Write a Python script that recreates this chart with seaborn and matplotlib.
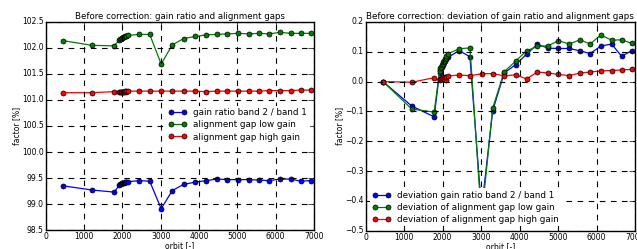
import numpy as np
import pandas as pd
import seaborn as sns
import matplotlib
matplotlib.use('Agg')
import matplotlib.pyplot as plt

orbits = [450, 1200, 1780, 1920, 1940, 1960, 1980, 2000, 2020, 2040, 2060, 2080, 2100,
          2150, 2430, 2710, 3010, 3300, 3600, 3900, 4180, 4460, 4740, 5010, 5290,
          5570, 5830, 6110, 6390, 6650, 6920]

gain_ratio = [99.35, 99.27, 99.23, 99.36, 99.38, 99.39, 99.40, 99.40, 99.41, 99.41, 99.42, 99.42, 99.42,
              99.43, 99.45, 99.44, 98.91, 99.26, 99.38, 99.42, 99.45, 99.48, 99.47, 99.47, 99.47,
              99.46, 99.45, 99.48, 99.48, 99.44, 99.45]
gap_low = [102.14, 102.05, 102.04, 102.15, 102.17, 102.18, 102.19, 102.20, 102.21, 102.21, 102.22, 102.22, 102.23,
           102.24, 102.26, 102.26, 101.69, 102.06, 102.18, 102.22, 102.25, 102.26, 102.27, 102.28, 102.27,
           102.28, 102.27, 102.30, 102.28, 102.28, 102.28]
gap_high = [101.14, 101.14, 101.16, 101.15, 101.15, 101.16, 101.16, 101.16, 101.16, 101.16, 101.17, 101.16, 101.17,
            101.17, 101.17, 101.17, 101.17, 101.17, 101.17, 101.17, 101.16, 101.17, 101.17, 101.17, 101.17,
            101.17, 101.18, 101.18, 101.18, 101.19, 101.19]

dev_ratio = [0.0, -0.082, -0.118, 0.03, 0.04, 0.045, 0.05, 0.055, 0.06, 0.065, 0.07, 0.075, 0.078,
             0.082, 0.104, 0.083, -0.43, -0.098, 0.029, 0.057, 0.092, 0.125, 0.112, 0.111, 0.111,
             0.103, 0.094, 0.119, 0.126, 0.085, 0.104]
dev_low = [0.0, -0.092, -0.102, 0.035, 0.045, 0.05, 0.055, 0.06, 0.065, 0.07, 0.075, 0.08, 0.085,
           0.094, 0.110, 0.113, -0.46, -0.089, 0.033, 0.069, 0.103, 0.118, 0.120, 0.137, 0.126,
           0.140, 0.126, 0.156, 0.139, 0.140, 0.128]
dev_high = [0.0, -0.002, 0.013, 0.005, 0.008, 0.010, 0.012, 0.008, 0.014, 0.010, 0.015, 0.006, 0.016,
            0.019, 0.022, 0.020, 0.026, 0.027, 0.019, 0.023, 0.009, 0.032, 0.029, 0.024, 0.020,
            0.029, 0.032, 0.036, 0.037, 0.039, 0.041]

plt.style.use('classic')
plt.rcParams['font.family'] = ['DejaVu Sans']

fig = plt.figure(figsize=(6.37, 2.49), dpi=100, facecolor='white')
ax1 = fig.add_axes([0.072, 0.076, 0.421, 0.836])
ax2 = fig.add_axes([0.574, 0.073, 0.423, 0.839])

colors = ['b', 'g', 'r']


def draw(ax, series, labels):
    for vals, lab, c in zip(series, labels, colors):
        df = pd.DataFrame({'orbit': orbits, 'value': vals})
        sns.lineplot(data=df, x='orbit', y='value', ax=ax, color=c, label=lab,
                     marker='o', markersize=3.6, markeredgecolor='k', markeredgewidth=0.5,
                     markerfacecolor=c, linewidth=0.9, estimator=None, sort=False)
    ax.set_xlim(0, 7000)
    ax.grid(True, linestyle='--', color='k', linewidth=0.8, dashes=(4, 4))
    ax.set_xlabel('orbit [-]', fontsize=5.5, labelpad=0)
    ax.set_ylabel('factor [%]', fontsize=5.5, labelpad=1)
    ax.tick_params(labelsize=5.5, direction='in', length=4, pad=1.5)
    ax.set_xticks(np.arange(0, 7001, 1000))


draw(ax1, [gain_ratio, gap_low, gap_high],
     ['gain ratio band 2 / band 1', 'alignment gap low gain', 'alignment gap high gain'])
ax1.set_ylim(98.5, 102.5)
ax1.set_yticks(np.arange(98.5, 102.51, 0.5))
ax1.set_yticklabels(['%.1f' % v for v in np.arange(98.5, 102.51, 0.5)])
ax1.set_title('Before correction: gain ratio and alignment gaps', fontsize=6.2, pad=2)
leg1 = ax1.legend(loc='center right', bbox_to_anchor=(1.0, 0.505), fontsize=6.3, numpoints=2,
                  frameon=True, handlelength=2.0, borderpad=0.3, labelspacing=0.35)
leg1.get_frame().set_edgecolor('none')

draw(ax2, [dev_ratio, dev_low, dev_high],
     ['deviation gain ratio band 2 / band 1', 'deviation of alignment gap low gain',
      'deviation of alignment gap high gain'])
ax2.set_ylim(-0.5, 0.2)
yt = np.arange(-0.5, 0.21, 0.1)
ax2.set_yticks(yt)
ax2.set_yticklabels([('%.1f' % v).replace('-', '\u2212') if abs(v) > 1e-9 else '0.0' for v in yt])
ax2.set_title('Before correction: deviation of gain ratio and alignment gaps', fontsize=6.3, pad=2)
leg2 = ax2.legend(loc='lower left', bbox_to_anchor=(0.0, 0.0), fontsize=6.3, numpoints=2,
                  frameon=True, handlelength=2.0, borderpad=0.3, labelspacing=0.35)
leg2.get_frame().set_edgecolor('none')

fig.savefig('out.png', dpi=100, facecolor='white')
